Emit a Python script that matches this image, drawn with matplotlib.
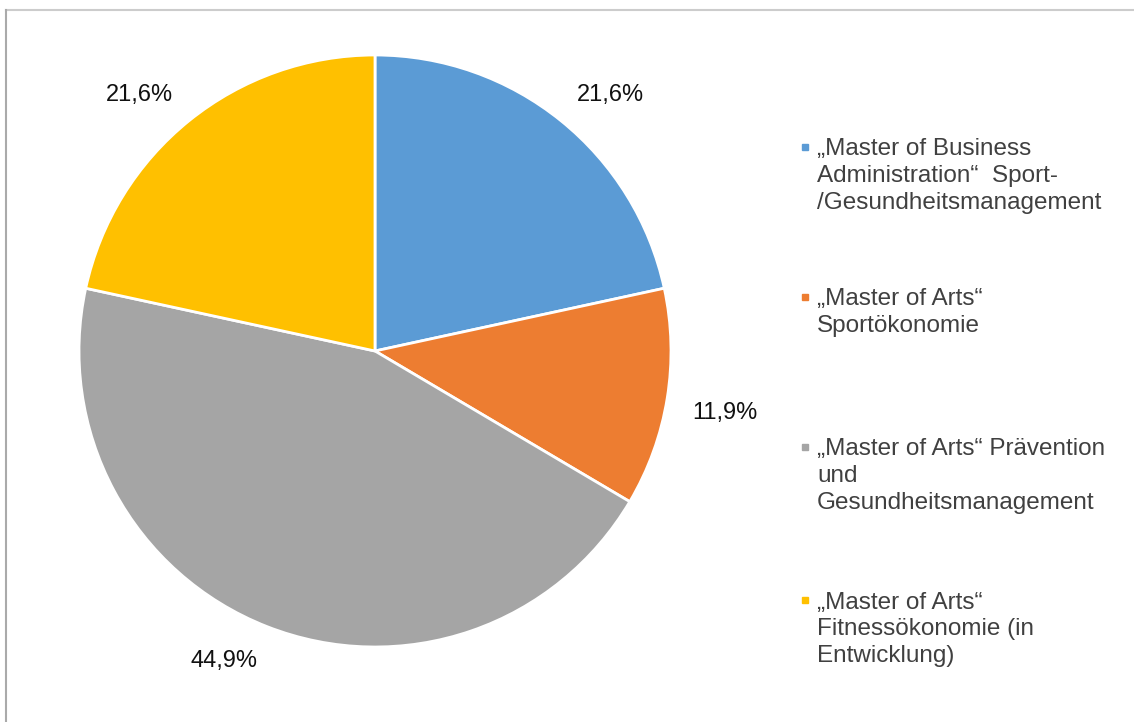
import numpy as np
import matplotlib.pyplot as plt
from matplotlib.lines import Line2D

plt.rcParams['font.family'] = ['Liberation Sans', 'DejaVu Sans']

# Daten
labels = [
    '„Master of Business\nAdministration“  Sport-\n/Gesundheitsmanagement',
    '„Master of Arts“\nSportökonomie',
    '„Master of Arts“ Prävention\nund\nGesundheitsmanagement',
    '„Master of Arts“\nFitnessökonomie (in\nEntwicklung)',
]
values = [21.6, 11.9, 44.9, 21.6]
colors = ['#5B9BD5', '#ED7D31', '#A5A5A5', '#FFC000']

W, H = 1134, 722
fig = plt.figure(figsize=(W / 100, H / 100), dpi=100)

# Kreis: Mitte (375, 351), Radius 296 px
cx, cy, r = 375, 351, 296
ax = fig.add_axes([(cx - r) / W, (H - cy - r) / H, 2 * r / W, 2 * r / H])
wedges, _, autotexts = ax.pie(
    values, colors=colors, startangle=90, counterclock=False,
    autopct=lambda p: ('%.1f%%' % p).replace('.', ','),
    wedgeprops=dict(edgecolor='white', linewidth=2),
    textprops=dict(fontsize=17, color='#111111'))

# Beschriftung außen, Ecke des Textes am Ankerpunkt (wie Excel)
for w, t in zip(wedges, autotexts):
    ang = np.deg2rad((w.theta1 + w.theta2) / 2)
    x, y = 1.085 * np.cos(ang), 1.085 * np.sin(ang)
    t.set_position((x, y))
    t.set_ha('left' if x > 0 else 'right')
    t.set_va('baseline' if y > 0 else 'top')

ax.set_xlim(-1, 1)
ax.set_ylim(-1, 1)
ax.set_aspect('equal')
ax.axis('off')

# Legende von Hand, Marker auf Höhe der ersten Zeile
legend_y = [147, 297, 447, 600]
for lab, col, y in zip(labels, colors, legend_y):
    fig.add_artist(Line2D([805 / W], [1 - y / H], marker='s', markersize=5,
                          color=col, linestyle='none', transform=fig.transFigure))
    fig.text(817 / W, 1 - (y - 8.5) / H, lab, fontsize=17.5, color='#404040',
             va='top', ha='left', linespacing=1.27)

# Rahmen oben und links
fig.add_artist(Line2D([6 / W, 1], [1 - 10 / H, 1 - 10 / H], color='#cccccc',
                      linewidth=1.5, transform=fig.transFigure))
fig.add_artist(Line2D([6 / W, 6 / W], [0, 1 - 10 / H], color='#aaaaaa',
                      linewidth=1.5, transform=fig.transFigure))

fig.savefig('out.png', dpi=100)
